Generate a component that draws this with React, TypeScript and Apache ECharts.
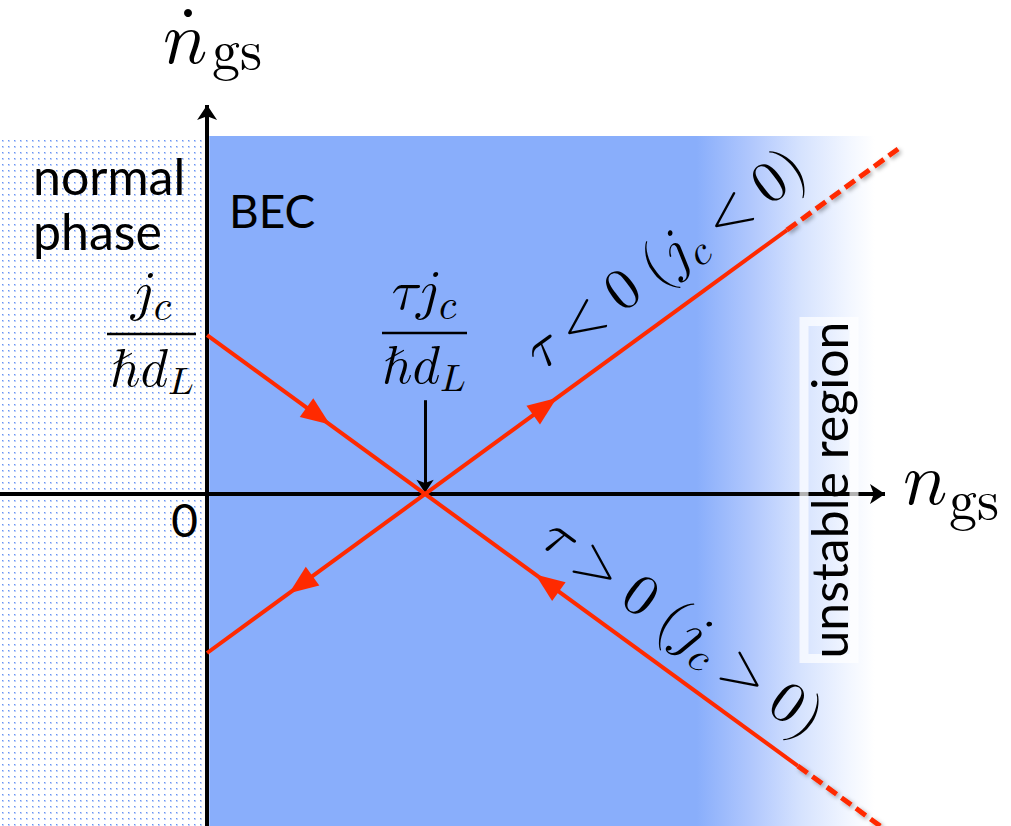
import React, { useEffect, useRef } from 'react';
import * as echarts from 'echarts';

// ---- scale of the sketch (x in units of τj_c/ħd_L, y in units of j_c/ħd_L)
const X_MIN = -0.95;
const X_MAX = 3.688;
const Y_MIN = -2.088;
const Y_MAX = 3.107;
const REGION_TOP = 2.252;

// ---- axes and pointer (start, arrow tip)
const nAxis = [[X_MIN, 0], [3.11, 0]];
const nDotAxis = [[0, Y_MIN], [0, 2.447]];
const crossingPointer = [[1, 0.59], [1, 0.008]];

// ---- regions
const normalPhaseRegion = [[X_MIN, REGION_TOP], [-0.02, Y_MIN]];
const becRegion = [[0.01, REGION_TOP], [X_MAX, Y_MIN]];

// ---- trajectories
const tauNegSolid = [[0, -1], [2.66, 1.66]];
const tauNegDashed = [[2.66, 1.66], [3.17, 2.17]];
const tauPosSolid = [[0, 1], [2.71, -1.71]];
const tauPosDashed = [[2.71, -1.71], [3.15, -2.15]];

// ---- flow arrows on the trajectories
const flowArrowPoints = [[0.51, 0.49], [1.56, -0.56], [0.43, -0.57], [1.55, 0.55]];
const flowArrowAngles = [-126, 54, 126, -54];

// ---- labels
const yAxisName = '𝑛';
const xAxisName = '𝑛';
const axisSub = 'gs';
const originLabel = '0';
const yTickNum = '𝑗{s|𝑐}';
const xTickNum = '𝜏𝑗{s|𝑐}';
const tickDen = 'ℏ𝑑{s|𝐿}';
const tauNegLabel = '𝜏\u2005<\u20050\u2005(𝑗{s|𝑐}\u2005<\u20050)';
const tauPosLabel = '𝜏\u2005>\u20050\u2005(𝑗{s|𝑐}\u2005>\u20050)';

const RED = '#ff2a00';
const MATH = 'Latin Modern Math, Liberation Serif, serif';
const SANS = 'Lato, Open Sans, sans-serif';

function txt(text: string, x: number, y: number, size: number, opts: any = {}) {
  return {
    type: 'text',
    x,
    y,
    z: 10,
    rotation: opts.rotation || 0,
    style: {
      text,
      fill: '#000',
      fontSize: size,
      fontFamily: opts.family || MATH,
      align: opts.align || 'left',
      verticalAlign: 'middle',
      ...(opts.extra || {}),
    },
  };
}

function subRich(size: number, pad: number) {
  return { s: { fontSize: size, fontFamily: MATH, fill: '#000', padding: [pad, 0, 0, 0] } };
}

export default function App() {
  const ref = useRef<HTMLDivElement>(null);

  useEffect(() => {
    document.body.style.margin = '0';
    const el = ref.current!;
    const chart = echarts.init(el, undefined, { renderer: 'svg' });

    const cv = document.createElement('canvas');
    cv.width = 6;
    cv.height = 6;
    const ctx = cv.getContext('2d')!;
    ctx.fillStyle = 'rgba(75,125,240,0.35)';
    ctx.fillRect(2, 2, 2, 2);
    ctx.fillStyle = 'rgba(75,125,240,0.75)';
    ctx.fillRect(2, 2, 1, 1);
    const dotPattern: any = { image: cv.toDataURL(), repeat: 'repeat', imageWidth: 6, imageHeight: 6 };

    const becGradient = new echarts.graphic.LinearGradient(0, 0, 1, 0, [
      { offset: 0, color: '#89aefb' },
      { offset: 0.608, color: '#89aefb' },
      { offset: 0.675, color: '#b0c7fd' },
      { offset: 0.737, color: '#d5e2fe' },
      { offset: 0.8, color: '#f3f7ff' },
      { offset: 0.83, color: '#ffffff' },
      { offset: 1, color: '#ffffff' },
    ]);

    const graphics: any[] = [
      // ṅ_gs
      txt(yAxisName, 163, 40, 74),
      { type: 'circle', z: 10, shape: { cx: 188, cy: 13, r: 4 }, style: { fill: '#000' } },
      txt(axisSub, 212, 52, 56),
      // n_gs
      txt(xAxisName, 903, 481, 74),
      txt(axisSub, 949, 502, 56),
      // region labels
      txt('normal', 33, 176, 50, { family: SANS }),
      txt('phase', 33, 231, 50, { family: SANS }),
      txt('BEC', 229, 210, 46, { family: SANS }),
      txt(originLabel, 198, 519, 46, { family: SANS, align: 'right' }),
      // j_c / ħd_L
      txt(yTickNum, 151, 293, 56, { align: 'center', extra: { rich: subRich(40, 28) } }),
      { type: 'line', z: 10, shape: { x1: 107, y1: 334, x2: 196, y2: 334 }, style: { stroke: '#000', lineWidth: 2.5 } },
      txt(tickDen, 152, 369, 53, { align: 'center', extra: { rich: subRich(38, 25) } }),
      // τj_c / ħd_L
      txt(xTickNum, 424, 292, 56, { align: 'center', extra: { rich: subRich(40, 28) } }),
      { type: 'line', z: 10, shape: { x1: 382, y1: 333, x2: 467, y2: 333 }, style: { stroke: '#000', lineWidth: 2.5 } },
      txt(tickDen, 424, 366, 53, { align: 'center', extra: { rich: subRich(38, 25) } }),
      // trajectory labels
      txt(tauNegLabel, 665, 259, 58, { align: 'center', rotation: 0.63, extra: { rich: subRich(41, 30) } }),
      txt(tauPosLabel, 683, 627, 58, { align: 'center', rotation: -0.63, extra: { rich: subRich(41, 30) } }),
      // unstable region label with white glow
      txt('unstable region', 829, 490, 50, {
        family: SANS, align: 'center', rotation: Math.PI / 2,
        extra: { textBorderColor: 'rgba(255,255,255,0.7)', textBorderWidth: 9 },
      }),
    ];

    const option: any = {
      animation: false,
      backgroundColor: '#ffffff',
      grid: { left: 0, right: 0, top: 0, bottom: 0 },
      xAxis: { type: 'value', min: X_MIN, max: X_MAX, show: false },
      yAxis: { type: 'value', min: Y_MIN, max: Y_MAX, show: false },
      series: [
        {
          type: 'line', name: 'regions', data: [], silent: true, z: 1,
          markArea: {
            silent: true, z: 1, label: { show: false },
            data: [
              [{ coord: normalPhaseRegion[0], itemStyle: { color: dotPattern } }, { coord: normalPhaseRegion[1] }],
              [{ coord: becRegion[0], itemStyle: { color: becGradient } }, { coord: becRegion[1] }],
            ],
          },
        },
        {
          type: 'line', name: 'axes', data: [], silent: true, z: 2,
          markLine: {
            silent: true, z: 2, symbol: ['none', 'arrow'], symbolSize: 15,
            label: { show: false }, emphasis: { disabled: true },
            lineStyle: { color: '#000', width: 4, type: 'solid' },
            data: [
              [{ coord: nAxis[0] }, { coord: nAxis[1] }],
              [{ coord: nDotAxis[0] }, { coord: nDotAxis[1] }],
              [{ coord: crossingPointer[0], lineStyle: { width: 3 } }, { coord: crossingPointer[1], symbolSize: 13 }],
            ],
          },
        },
        {
          type: 'line', name: 'tau<0', data: tauNegSolid, showSymbol: false, symbol: 'none', z: 3,
          lineStyle: { color: RED, width: 4 },
        },
        {
          type: 'line', name: 'tau<0 unstable', data: tauNegDashed, showSymbol: false, symbol: 'none', z: 3,
          lineStyle: { color: RED, width: 5, type: [12, 6], shadowColor: 'rgba(0,0,0,0.35)', shadowBlur: 4, shadowOffsetX: 2, shadowOffsetY: 2 },
        },
        {
          type: 'line', name: 'tau>0', data: tauPosSolid, showSymbol: false, symbol: 'none', z: 3,
          lineStyle: { color: RED, width: 4 },
        },
        {
          type: 'line', name: 'tau>0 unstable', data: tauPosDashed, showSymbol: false, symbol: 'none', z: 3,
          lineStyle: { color: RED, width: 5, type: [12, 6], shadowColor: 'rgba(0,0,0,0.35)', shadowBlur: 4, shadowOffsetX: 2, shadowOffsetY: 2 },
        },
        {
          type: 'scatter', name: 'flow', z: 4, silent: true,
          symbol: 'triangle', symbolSize: [23, 29],
          itemStyle: { color: RED, opacity: 1 },
          data: flowArrowPoints.map((p, i) => ({ value: p, symbolRotate: flowArrowAngles[i] })),
        },
      ],
      graphic: { elements: graphics },
    };

    chart.setOption(option);
    return () => chart.dispose();
  }, []);

  return <div ref={ref} style={{ width: 1011, height: 826 }} />;
}
